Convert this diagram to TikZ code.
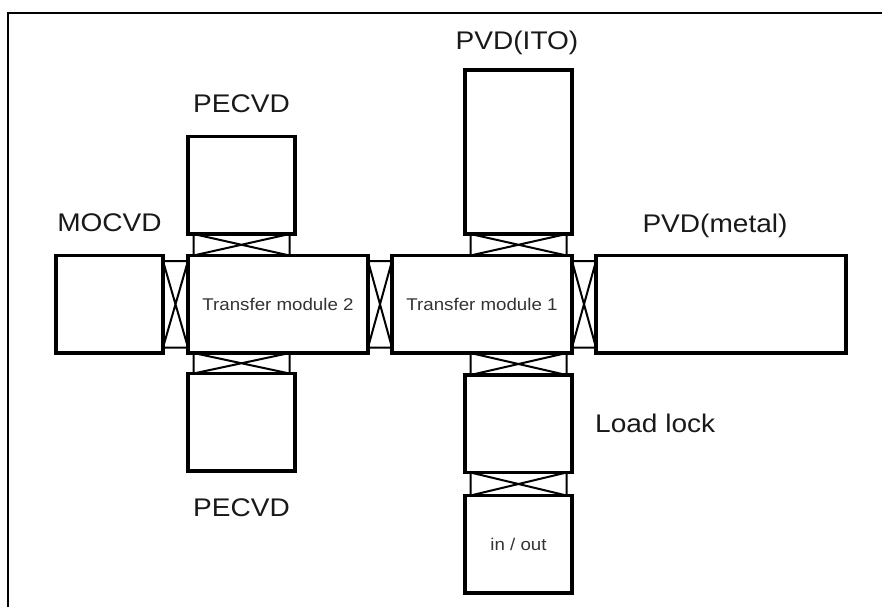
\documentclass[tikz,border=0pt]{standalone}
\usepackage{fontspec}
\setmainfont{Liberation Sans}[FakeStretch=1.1]
\usepackage{tikz}
\usetikzlibrary{calc, positioning}

\newcommand{\biglbl}{\fontsize{25.5}{30}\selectfont}
\newcommand{\smalllbl}{\fontsize{17}{20}\selectfont}
\newcommand{\gin}{5.5}

% gate valve between two chambers side by side
\newcommand{\hgate}[2]{%
  \coordinate (g1) at ($(#1.north east)+(0,\gin)$);
  \coordinate (g2) at ($(#2.south west)+(0,-\gin)$);
  \draw[gate] (g1) rectangle (g2) (g1) -- (g2) (g1 |- g2) -- (g2 |- g1);}
% gate valve between two chambers stacked (x range from #1)
\newcommand{\vgate}[3]{%
  \coordinate (g1) at ($(#1.west |- #2.south)+(\gin,0)$);
  \coordinate (g2) at ($(#1.east |- #3.north)+(-\gin,0)$);
  \draw[gate] (g1) rectangle (g2) (g1) -- (g2) (g1 |- g2) -- (g2 |- g1);}

\begin{document}
\begin{tikzpicture}[
  x=1pt, y=-1pt,
  chamber/.style={draw, line width=3.5pt, inner sep=0pt, outer sep=0pt,
                  minimum height=97.5pt, font=\smalllbl, text=black!80},
  gate/.style={draw, line width=2pt},
  lbl/.style={font=\biglbl, inner sep=0pt, text=black!90},
  frame/.style={draw, line width=2.5pt}
]
\useasboundingbox (0,0) rectangle (882,607);

% ---------------- outer frame ----------------
\draw[frame] (8,607) |- (882,12.8);

% ---------------- main row ----------------
\node[chamber, minimum width=180pt] (tm2) at (278,304.25) {Transfer module 2};
\node[chamber, minimum width=107pt, left=25pt of tm2] (mocvd) {};
\node[chamber, minimum width=180pt, right=24pt of tm2] (tm1) {Transfer module 1};
\node[chamber, minimum width=250pt, right=24pt of tm1] (pvdm) {};

% ---------------- side chambers ----------------
\node[chamber, minimum width=107pt, above=21.5pt of tm2.north west,
      anchor=south west] (pecvd1) {};
\node[chamber, minimum width=107pt, below=20.5pt of tm2.south west,
      anchor=north west] (pecvd2) {};
\node[chamber, minimum width=107pt, minimum height=164pt,
      above=21.5pt of tm1.north east, anchor=south east] (pvdito) {};
\node[chamber, minimum width=107pt, below=22pt of tm1.south east,
      anchor=north east] (lock) {};
\node[chamber, minimum width=107pt, below=23pt of lock] (inout) {in / out};

% ---------------- labels ----------------
\node[lbl, above=24pt of mocvd.north, anchor=base] (mocvdlbl) {MOCVD};
\node[lbl, above=23.5pt of pecvd1.north, anchor=base] (pecvd1lbl) {PECVD};
\node[lbl, below=45.5pt of pecvd2.south, anchor=base] (pecvd2lbl) {PECVD};
\node[lbl, above=20pt of pvdito.north, anchor=base, xshift=-1.5pt] (pvditolbl) {PVD(ITO)};
\node[lbl, above=23.5pt of pvdm.north, anchor=base, xshift=-6pt] (pvdmlbl) {PVD(metal)};
\node[lbl, right=23pt of lock.east, anchor=west] (locklbl) {Load lock};

% ---------------- gate valves ----------------
\hgate{mocvd}{tm2}
\hgate{tm2}{tm1}
\hgate{tm1}{pvdm}
\vgate{pecvd1}{pecvd1}{tm2}
\vgate{pecvd2}{tm2}{pecvd2}
\vgate{pvdito}{pvdito}{tm1}
\vgate{lock}{tm1}{lock}
\vgate{lock}{lock}{inout}

\end{tikzpicture}
\end{document}
